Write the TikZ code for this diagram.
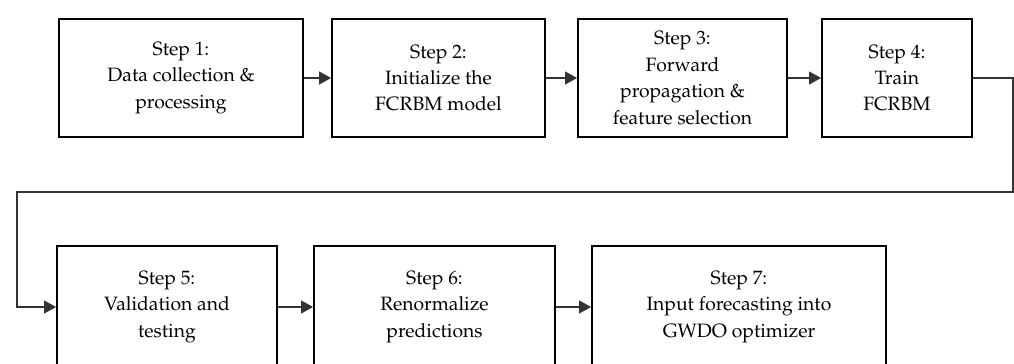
\documentclass[tikz,border=0pt]{standalone}
\usepackage[T1]{fontenc}
\usepackage{mathpazo}
\usetikzlibrary{arrows.meta}
\tikzset{
    stepbox/.style={draw, line width=1.1pt, align=center, inner sep=0pt,
        minimum height=2.36cm, font=\fontsize{11}{15}\selectfont},
    flow/.style={draw=black!80, line width=0.6pt,
        -{Triangle[length=2.4mm, width=2.6mm]}}
}

\begin{document}
\begin{tikzpicture}[x=0.02cm, y=-0.02cm]
            \clip (0,0) rectangle (1014,363);

            % ---------------- top row ----------------
            \node[stepbox, minimum width=4.88cm] (s1) at (181,78)
                {Step 1:\\Data collection \&\\processing};
            \node[stepbox, minimum width=4.26cm] (s2) at (438.5,78)
                {Step 2:\\Initialize the\\FCRBM model};
            \node[stepbox, minimum width=4.18cm] (s3) at (682.5,78)
                {Step 3:\\Forward\\propagation \&\\feature selection};
            \node[stepbox, minimum width=3.00cm] (s4) at (897,78)
                {Step 4:\\Train\\FCRBM};

            % ---------------- bottom row ----------------
            \node[stepbox, minimum width=4.40cm, minimum height=2.44cm] (s5) at (167,307)
                {Step 5:\\Validation and\\testing};
            \node[stepbox, minimum width=4.82cm, minimum height=2.44cm] (s6) at (434.5,307)
                {Step 6:\\Renormalize\\predictions};
            \node[stepbox, minimum width=5.88cm, minimum height=2.44cm] (s7) at (739,307)
                {Step 7:\\Input forecasting into\\GWDO optimizer};

            % ---------------- connectors ----------------
            \foreach \a/\b in {s1/s2,s2/s3,s3/s4,s5/s6,s6/s7}
                \draw[flow] (\a.east) -- (\b.west);

            \coordinate (turnA) at (1013,192);
            \coordinate (turnB) at (17,192);
            \draw[flow] (s4.east) -| (turnA) -- (turnB) |- (s5.west);
        \end{tikzpicture}
\end{document}
